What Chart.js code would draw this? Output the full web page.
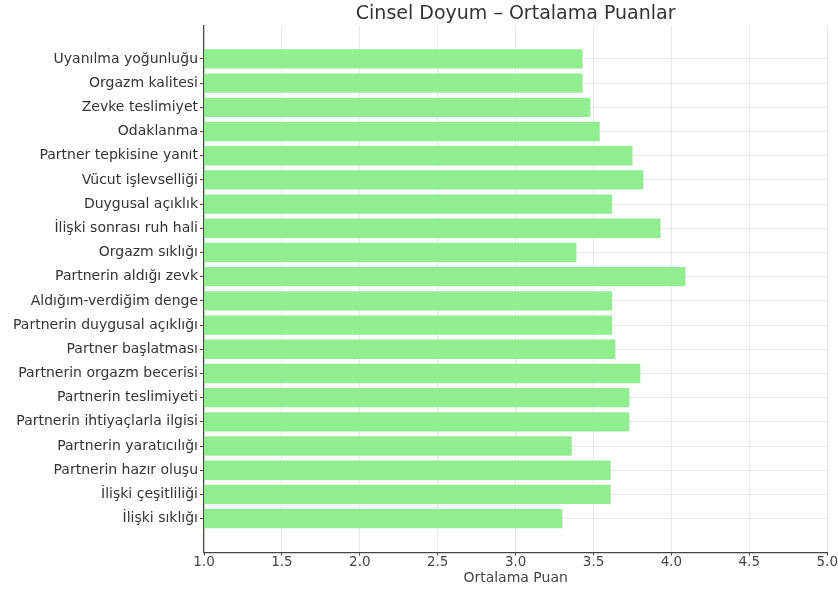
<!DOCTYPE html>
<html>
<head>
<meta charset="utf-8">
<script src="https://cdn.jsdelivr.net/npm/chart.js@4"></script>
<style>
  html, body { margin: 0; padding: 0; background: #fff; }
  #wrap { width: 838px; height: 589px; }
</style>
</head>
<body>
<div id="wrap"><canvas id="chart"></canvas></div>
<script>
// data ====================================
const categories = [
  "Uyanılma yoğunluğu",
  "Orgazm kalitesi",
  "Zevke teslimiyet",
  "Odaklanma",
  "Partner tepkisine yanıt",
  "Vücut işlevselliği",
  "Duygusal açıklık",
  "İlişki sonrası ruh hali",
  "Orgazm sıklığı",
  "Partnerin aldığı zevk",
  "Aldığım-verdiğim denge",
  "Partnerin duygusal açıklığı",
  "Partner başlatması",
  "Partnerin orgazm becerisi",
  "Partnerin teslimiyeti",
  "Partnerin ihtiyaçlarla ilgisi",
  "Partnerin yaratıcılığı",
  "Partnerin hazır oluşu",
  "İlişki çeşitliliği",
  "İlişki sıklığı"
];
const scores = [3.43, 3.43, 3.48, 3.54, 3.75, 3.82, 3.62, 3.93, 3.39, 4.09,
                3.62, 3.62, 3.64, 3.80, 3.73, 3.73, 3.36, 3.61, 3.61, 3.30];
const xTicks = [1.0, 1.5, 2.0, 2.5, 3.0, 3.5, 4.0, 4.5, 5.0];

const font = "'DejaVu Sans', sans-serif";
const gridColor = "#e8e8e8";
const spineColor = "#444";

// chart ====================================
const ctx = document.getElementById("chart").getContext("2d");
new Chart(ctx, {
  type: "bar",
  data: {
    datasets: [
      {
        data: scores.map((v, i) => ({ x: v, y: i })),
        backgroundColor: "#90ee90",
        borderWidth: 0,
        barPercentage: 0.8,
        categoryPercentage: 1,
      },
    ],
  },
  options: {
    indexAxis: "y",
    responsive: true,
    maintainAspectRatio: false,
    animation: false,
    layout: { padding: { left: 0, right: 8, top: 0, bottom: 2 } },
    plugins: {
      legend: { display: false },
      tooltip: { enabled: false },
      title: {
        display: true,
        fullSize: false, // center over the plot area like matplotlib
        text: "Cinsel Doyum – Ortalama Puanlar",
        color: "#333",
        font: { family: font, size: 19, weight: "normal", lineHeight: 1.2 },
        padding: { top: 3, bottom: 0 },
      },
    },
    scales: {
      x: {
        type: "linear",
        min: 1,
        max: 5,
        afterBuildTicks: (scale) => {
          scale.ticks = xTicks.map((v) => ({ value: v }));
        },
        ticks: {
          color: "#444",
          font: { family: font, size: 13.5, lineHeight: 1 },
          padding: 0,
          maxRotation: 0,
          callback: (v) => Number(v).toFixed(1),
        },
        grid: { color: gridColor, tickColor: spineColor, tickLength: 3 },
        border: { color: spineColor, width: 1.2 },
        title: {
          display: true,
          text: "Ortalama Puan",
          color: "#444",
          font: { family: font, size: 14, lineHeight: 1 },
          padding: { top: 2, bottom: 2 },
        },
      },
      y: {
        type: "linear",
        reverse: true,
        offset: false,
        min: -1.37,
        max: 20.4,
        afterBuildTicks: (scale) => {
          scale.ticks = categories.map((c, i) => ({ value: i }));
        },
        afterFit: (scale) => {
          scale.width = 204;
        },
        ticks: {
          color: "#333",
          font: { family: font, size: 14 },
          padding: 2,
          autoSkip: false,
          callback: (v) => categories[v],
        },
        grid: { offset: false, color: gridColor, tickColor: spineColor, tickLength: 4 },
        border: { color: spineColor, width: 1.2 },
      },
    },
  },
});
</script>
</body>
</html>
